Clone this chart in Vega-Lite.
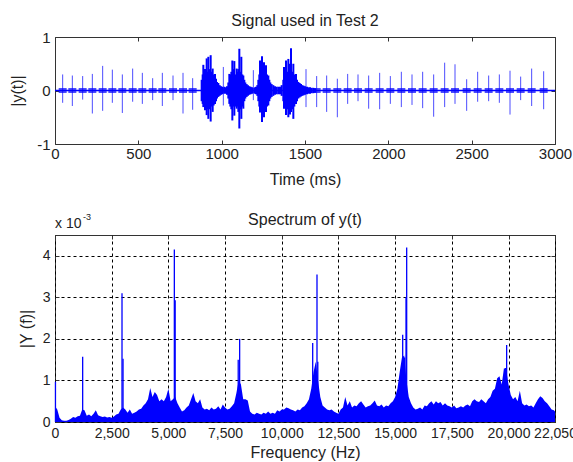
{
"$schema": "https://vega.github.io/schema/vega-lite/v6.json",
"padding": {"left": 9, "top": 12, "right": 0, "bottom": 0},
"background": "white",
"spacing": 23,
"config": {
  "font": "Liberation Sans",
  "view": {"stroke": "#333", "strokeWidth": 1},
  "title": {"fontSize": 16, "fontWeight": "normal", "color": "#222", "font": "Liberation Sans", "frame": "group"},
  "axis": {"domain": false, "tickSize": -4, "tickColor": "#333", "labelColor": "#222", "titleColor": "#222", "labelFont": "Liberation Sans", "titleFont": "Liberation Sans", "titleFontWeight": "normal", "titleFontSize": 16, "labelFontSize": 15, "grid": false, "labelFlush": false, "labelOverlap": false, "labelBound": false, "labelPadding": 9}
},
"datasets": {
  "clicks": [
    {"t":46,"hi":0.30,"lo":-0.23},{"t":104,"hi":0.28,"lo":-0.29},{"t":166,"hi":0.27,"lo":-0.17},{"t":224,"hi":0.31,"lo":-0.43},{"t":286,"hi":0.46,"lo":-0.38},{"t":344,"hi":0.39,"lo":-0.23},{"t":404,"hi":0.30,"lo":-0.42},{"t":466,"hi":0.41,"lo":-0.21},{"t":524,"hi":0.33,"lo":-0.25},{"t":586,"hi":0.23,"lo":-0.18},{"t":644,"hi":0.33,"lo":-0.29},{"t":708,"hi":0.28,"lo":-0.18},{"t":768,"hi":0.33,"lo":-0.43},{"t":826,"hi":0.23,"lo":-0.36},{"t":1010,"hi":0.44,"lo":-0.28},{"t":1190,"hi":0.38,"lo":-0.18},{"t":1506,"hi":0.40,"lo":-0.31},{"t":1570,"hi":0.27,"lo":-0.31},{"t":1630,"hi":0.28,"lo":-0.40},{"t":1694,"hi":0.22,"lo":-0.50},{"t":1756,"hi":0.31,"lo":-0.25},{"t":1818,"hi":0.30,"lo":-0.20},{"t":1882,"hi":0.28,"lo":-0.34},{"t":1948,"hi":0.33,"lo":-0.35},{"t":2012,"hi":0.27,"lo":-0.25},{"t":2078,"hi":0.35,"lo":-0.31},{"t":2142,"hi":0.30,"lo":-0.27},{"t":2206,"hi":0.35,"lo":-0.33},{"t":2272,"hi":0.30,"lo":-0.49},{"t":2338,"hi":0.52,"lo":-0.31},{"t":2400,"hi":0.49,"lo":-0.25},{"t":2470,"hi":0.21,"lo":-0.38},{"t":2536,"hi":0.35,"lo":-0.21},{"t":2602,"hi":0.28,"lo":-0.20},{"t":2666,"hi":0.30,"lo":-0.23},{"t":2730,"hi":0.37,"lo":-0.45},{"t":2794,"hi":0.26,"lo":-0.18},{"t":2860,"hi":0.41,"lo":-0.29},{"t":2932,"hi":0.36,"lo":-0.35}
  ],
  "burst": [
    {"t":880,"hi":0.20,"lo":-0.20},{"t":886,"hi":0.30,"lo":-0.25},{"t":890,"hi":0.48,"lo":-0.31},{"t":896,"hi":0.35,"lo":-0.30},{"t":900,"hi":0.40,"lo":-0.37},{"t":904,"hi":0.30,"lo":-0.30},{"t":910,"hi":0.60,"lo":-0.46},{"t":916,"hi":0.35,"lo":-0.35},{"t":920,"hi":0.63,"lo":-0.53},{"t":926,"hi":0.40,"lo":-0.35},{"t":934,"hi":0.66,"lo":-0.58},{"t":940,"hi":0.35,"lo":-0.30},{"t":946,"hi":0.41,"lo":-0.40},{"t":952,"hi":0.30,"lo":-0.28},{"t":960,"hi":0.31,"lo":-0.25},{"t":966,"hi":0.22,"lo":-0.20},{"t":972,"hi":0.16,"lo":-0.15},{"t":980,"hi":0.14,"lo":-0.12},{"t":988,"hi":0.10,"lo":-0.10},{"t":996,"hi":0.08,"lo":-0.08},{"t":1004,"hi":0.07,"lo":-0.07},{"t":1016,"hi":0.07,"lo":-0.06},{"t":1024,"hi":0.06,"lo":-0.06},{"t":1032,"hi":0.08,"lo":-0.08},
    {"t":1040,"hi":0.15,"lo":-0.15},{"t":1046,"hi":0.31,"lo":-0.25},{"t":1052,"hi":0.30,"lo":-0.30},{"t":1058,"hi":0.35,"lo":-0.35},{"t":1064,"hi":0.56,"lo":-0.56},{"t":1070,"hi":0.40,"lo":-0.30},{"t":1076,"hi":0.55,"lo":-0.47},{"t":1082,"hi":0.30,"lo":-0.30},{"t":1090,"hi":0.41,"lo":-0.34},{"t":1096,"hi":0.35,"lo":-0.30},{"t":1100,"hi":0.40,"lo":-0.40},{"t":1106,"hi":0.78,"lo":-0.71},{"t":1112,"hi":0.35,"lo":-0.35},{"t":1118,"hi":0.63,"lo":-0.53},{"t":1124,"hi":0.30,"lo":-0.30},{"t":1130,"hi":0.28,"lo":-0.34},{"t":1136,"hi":0.20,"lo":-0.20},{"t":1142,"hi":0.15,"lo":-0.15},{"t":1150,"hi":0.12,"lo":-0.12},{"t":1158,"hi":0.10,"lo":-0.10},{"t":1166,"hi":0.08,"lo":-0.08},{"t":1174,"hi":0.07,"lo":-0.07},{"t":1182,"hi":0.06,"lo":-0.06},{"t":1198,"hi":0.06,"lo":-0.06},{"t":1206,"hi":0.07,"lo":-0.07},{"t":1214,"hi":0.10,"lo":-0.10},
    {"t":1220,"hi":0.20,"lo":-0.20},{"t":1226,"hi":0.30,"lo":-0.30},{"t":1230,"hi":0.56,"lo":-0.41},{"t":1236,"hi":0.35,"lo":-0.35},{"t":1242,"hi":0.64,"lo":-0.59},{"t":1248,"hi":0.40,"lo":-0.40},{"t":1254,"hi":0.53,"lo":-0.50},{"t":1260,"hi":0.35,"lo":-0.30},{"t":1266,"hi":0.47,"lo":-0.40},{"t":1272,"hi":0.30,"lo":-0.30},{"t":1280,"hi":0.28,"lo":-0.28},{"t":1286,"hi":0.20,"lo":-0.20},{"t":1292,"hi":0.15,"lo":-0.15},{"t":1300,"hi":0.12,"lo":-0.12},{"t":1310,"hi":0.10,"lo":-0.10},{"t":1320,"hi":0.08,"lo":-0.08},{"t":1330,"hi":0.07,"lo":-0.07},{"t":1340,"hi":0.07,"lo":-0.07},{"t":1350,"hi":0.07,"lo":-0.07},{"t":1360,"hi":0.10,"lo":-0.10},
    {"t":1370,"hi":0.20,"lo":-0.20},{"t":1374,"hi":0.44,"lo":-0.34},{"t":1380,"hi":0.30,"lo":-0.30},{"t":1386,"hi":0.56,"lo":-0.46},{"t":1392,"hi":0.35,"lo":-0.35},{"t":1400,"hi":0.59,"lo":-0.50},{"t":1406,"hi":0.40,"lo":-0.35},{"t":1410,"hi":0.50,"lo":-0.45},{"t":1416,"hi":0.79,"lo":-0.40},{"t":1422,"hi":0.35,"lo":-0.35},{"t":1430,"hi":0.50,"lo":-0.53},{"t":1436,"hi":0.30,"lo":-0.30},{"t":1446,"hi":0.31,"lo":-0.25},{"t":1452,"hi":0.20,"lo":-0.20},{"t":1460,"hi":0.16,"lo":-0.15},{"t":1468,"hi":0.14,"lo":-0.13},{"t":1476,"hi":0.12,"lo":-0.11},{"t":1484,"hi":0.10,"lo":-0.10},{"t":1492,"hi":0.09,"lo":-0.09},{"t":1500,"hi":0.08,"lo":-0.08},{"t":1512,"hi":0.07,"lo":-0.07},{"t":1520,"hi":0.06,"lo":-0.06},{"t":1530,"hi":0.06,"lo":-0.06},{"t":1540,"hi":0.05,"lo":-0.05},{"t":1550,"hi":0.05,"lo":-0.05},{"t":1560,"hi":0.04,"lo":-0.04}
  ],
  "spec": [
    {"f":0,"v":0.38},{"f":100,"v":0.30},{"f":200,"v":0.10},{"f":300,"v":0.04},{"f":400,"v":0.03},{"f":500,"v":0.03},{"f":600,"v":0.05},{"f":700,"v":0.08},{"f":800,"v":0.12},{"f":900,"v":0.10},{"f":1000,"v":0.14},{"f":1100,"v":0.15},{"f":1200,"v":0.30},{"f":1300,"v":0.28},{"f":1400,"v":0.15},{"f":1500,"v":0.18},{"f":1600,"v":0.14},{"f":1700,"v":0.20},{"f":1800,"v":0.28},{"f":1900,"v":0.16},
    {"f":2000,"v":0.14},{"f":2100,"v":0.12},{"f":2200,"v":0.13},{"f":2300,"v":0.11},{"f":2400,"v":0.12},{"f":2500,"v":0.10},{"f":2600,"v":0.13},{"f":2700,"v":0.18},{"f":2800,"v":0.20},{"f":2900,"v":0.30},{"f":3000,"v":0.35},{"f":3100,"v":0.30},{"f":3200,"v":0.22},{"f":3300,"v":0.30},{"f":3400,"v":0.20},{"f":3500,"v":0.22},{"f":3600,"v":0.25},{"f":3700,"v":0.30},{"f":3800,"v":0.32},{"f":3900,"v":0.40},
    {"f":4000,"v":0.45},{"f":4100,"v":0.55},{"f":4200,"v":0.82},{"f":4300,"v":0.60},{"f":4400,"v":0.72},{"f":4500,"v":0.65},{"f":4600,"v":0.50},{"f":4700,"v":0.55},{"f":4800,"v":0.50},{"f":4900,"v":0.60},{"f":5000,"v":0.80},{"f":5100,"v":0.50},{"f":5200,"v":0.55},{"f":5300,"v":0.60},{"f":5400,"v":0.45},{"f":5500,"v":0.35},{"f":5600,"v":0.25},{"f":5700,"v":0.28},{"f":5800,"v":0.35},{"f":5900,"v":0.40},
    {"f":6000,"v":0.55},{"f":6100,"v":0.70},{"f":6200,"v":0.50},{"f":6300,"v":0.45},{"f":6400,"v":0.55},{"f":6500,"v":0.35},{"f":6600,"v":0.30},{"f":6700,"v":0.32},{"f":6800,"v":0.28},{"f":6900,"v":0.35},{"f":7000,"v":0.30},{"f":7100,"v":0.32},{"f":7200,"v":0.38},{"f":7300,"v":0.30},{"f":7400,"v":0.42},{"f":7500,"v":0.35},{"f":7600,"v":0.30},{"f":7700,"v":0.32},{"f":7800,"v":0.38},{"f":7900,"v":0.45},
    {"f":8000,"v":0.70},{"f":8100,"v":1.00},{"f":8200,"v":0.90},{"f":8300,"v":0.55},{"f":8400,"v":0.55},{"f":8500,"v":0.52},{"f":8600,"v":0.25},{"f":8700,"v":0.20},{"f":8800,"v":0.18},{"f":8900,"v":0.22},{"f":9000,"v":0.20},{"f":9100,"v":0.18},{"f":9200,"v":0.22},{"f":9300,"v":0.20},{"f":9400,"v":0.25},{"f":9500,"v":0.20},{"f":9600,"v":0.22},{"f":9700,"v":0.20},{"f":9800,"v":0.28},{"f":9900,"v":0.25},
    {"f":10000,"v":0.30},{"f":10100,"v":0.30},{"f":10200,"v":0.35},{"f":10300,"v":0.33},{"f":10400,"v":0.30},{"f":10500,"v":0.28},{"f":10600,"v":0.25},{"f":10700,"v":0.30},{"f":10800,"v":0.28},{"f":10900,"v":0.35},{"f":11000,"v":0.38},{"f":11100,"v":0.45},{"f":11200,"v":0.55},{"f":11300,"v":0.80},{"f":11400,"v":1.20},{"f":11500,"v":1.45},{"f":11600,"v":1.00},{"f":11700,"v":0.60},{"f":11800,"v":0.40},{"f":11900,"v":0.35},
    {"f":12000,"v":0.30},{"f":12100,"v":0.28},{"f":12200,"v":0.30},{"f":12300,"v":0.25},{"f":12400,"v":0.22},{"f":12500,"v":0.20},{"f":12600,"v":0.30},{"f":12700,"v":0.35},{"f":12800,"v":0.60},{"f":12900,"v":0.40},{"f":13000,"v":0.50},{"f":13100,"v":0.35},{"f":13200,"v":0.40},{"f":13300,"v":0.38},{"f":13400,"v":0.45},{"f":13500,"v":0.50},{"f":13600,"v":0.42},{"f":13700,"v":0.35},{"f":13800,"v":0.38},{"f":13900,"v":0.40},
    {"f":14000,"v":0.45},{"f":14100,"v":0.52},{"f":14200,"v":0.40},{"f":14300,"v":0.38},{"f":14400,"v":0.42},{"f":14500,"v":0.35},{"f":14600,"v":0.40},{"f":14700,"v":0.38},{"f":14800,"v":0.45},{"f":14900,"v":0.50},{"f":15000,"v":0.60},{"f":15100,"v":0.80},{"f":15200,"v":1.20},{"f":15300,"v":1.55},{"f":15400,"v":1.60},{"f":15500,"v":1.00},{"f":15600,"v":0.60},{"f":15700,"v":0.45},{"f":15800,"v":0.35},{"f":15900,"v":0.30},
    {"f":16000,"v":0.32},{"f":16100,"v":0.35},{"f":16200,"v":0.30},{"f":16300,"v":0.40},{"f":16400,"v":0.38},{"f":16500,"v":0.45},{"f":16600,"v":0.50},{"f":16700,"v":0.42},{"f":16800,"v":0.50},{"f":16900,"v":0.45},{"f":17000,"v":0.48},{"f":17100,"v":0.40},{"f":17200,"v":0.45},{"f":17300,"v":0.40},{"f":17400,"v":0.38},{"f":17500,"v":0.35},{"f":17600,"v":0.40},{"f":17700,"v":0.33},{"f":17800,"v":0.35},{"f":17900,"v":0.38},
    {"f":18000,"v":0.35},{"f":18100,"v":0.40},{"f":18200,"v":0.42},{"f":18300,"v":0.38},{"f":18400,"v":0.50},{"f":18500,"v":0.55},{"f":18600,"v":0.50},{"f":18700,"v":0.48},{"f":18800,"v":0.55},{"f":18900,"v":0.50},{"f":19000,"v":0.45},{"f":19100,"v":0.55},{"f":19200,"v":0.60},{"f":19300,"v":0.75},{"f":19400,"v":0.80},{"f":19500,"v":1.05},{"f":19600,"v":1.10},{"f":19700,"v":0.90},{"f":19800,"v":1.30},{"f":19900,"v":1.25},
    {"f":20000,"v":0.90},{"f":20100,"v":0.65},{"f":20200,"v":0.55},{"f":20300,"v":0.60},{"f":20400,"v":0.50},{"f":20500,"v":0.75},{"f":20600,"v":0.45},{"f":20700,"v":0.40},{"f":20800,"v":0.42},{"f":20900,"v":0.38},{"f":21000,"v":0.40},{"f":21100,"v":0.35},{"f":21200,"v":0.45},{"f":21300,"v":0.55},{"f":21400,"v":0.62},{"f":21500,"v":0.58},{"f":21600,"v":0.50},{"f":21700,"v":0.45},{"f":21800,"v":0.38},{"f":21900,"v":0.30},{"f":22000,"v":0.28},{"f":22050,"v":0.25}
  ],
  "peaks": [
    {"f":20,"v":0.97},{"f":1220,"v":1.57},{"f":2955,"v":3.10},{"f":3000,"v":1.52},{"f":5263,"v":4.15},{"f":5300,"v":2.93},{"f":8080,"v":1.50},{"f":8143,"v":2.00},{"f":11364,"v":1.90},{"f":11554,"v":3.55},{"f":11590,"v":1.45},{"f":15333,"v":2.10},{"f":15420,"v":1.55},{"f":15480,"v":3.00},{"f":15509,"v":4.20},{"f":19870,"v":1.30},{"f":19918,"v":1.85}
  ]
},
"vconcat": [
  {
    "width": 500, "height": 107,
    "title": {"text": "Signal used in Test 2", "offset": 1},
    "layer": [
      {"data": {"values": [{"t": 0, "v": 0}, {"t": 3000, "v": 0}]},
       "mark": {"type": "line", "color": "#0000ff", "strokeWidth": 1.5},
       "encoding": {
         "x": {"field": "t", "type": "quantitative", "scale": {"domain": [0, 3000], "nice": false}, "axis": {"orient": "bottom", "values": [0,500,1000,1500,2000,2500,3000], "labelExpr": "format(datum.value, 'd')", "title": "Time (ms)", "labelPadding": 6, "titlePadding": 10}},
         "y": {"field": "v", "type": "quantitative", "scale": {"domain": [-1, 1], "nice": false}, "axis": {"orient": "left", "values": [-1,0,1], "labelExpr": "datum.value < 0 ? '-' + format(-datum.value, 'd') : format(datum.value, 'd')", "title": "|y(t)|", "titlePadding": 11}}
       }},
      {"data": {"name": "clicks"},
       "mark": {"type": "tick", "orient": "horizontal", "color": "#0000ff", "size": 8, "thickness": 5},
       "encoding": {
         "x": {"field": "t", "type": "quantitative", "axis": {"orient": "top", "labels": false, "title": null, "values": [0,500,1000,1500,2000,2500,3000]}},
         "y": {"datum": 0, "type": "quantitative", "axis": {"orient": "right", "labels": false, "title": null, "values": [-1,0,1]}}
       }},
      {"data": {"name": "clicks"},
       "mark": {"type": "rule", "color": "#0000ff", "strokeWidth": 1, "opacity": 0.7},
       "encoding": {
         "x": {"field": "t", "type": "quantitative", "axis": null},
         "y": {"field": "hi", "type": "quantitative", "axis": null},
         "y2": {"field": "lo"}
       }},
      {"data": {"name": "burst"},
       "mark": {"type": "rule", "color": "#0000ff", "strokeWidth": 2},
       "encoding": {
         "x": {"field": "t", "type": "quantitative", "axis": null},
         "y": {"field": "hi", "type": "quantitative", "axis": null},
         "y2": {"field": "lo"}
       }}
    ],
    "resolve": {"axis": {"x": "independent", "y": "independent"}}
  },
  {
    "width": 500, "height": 187,
    "title": {"text": "Spectrum of y(t)", "offset": -15},
    "layer": [
      {"data": {"name": "spec"},
       "mark": {"type": "area", "color": "#0000ff", "opacity": 1},
       "encoding": {
         "x": {"field": "f", "type": "quantitative", "scale": {"domain": [0, 22050], "nice": false}, "axis": {"orient": "bottom", "values": [0,2500,5000,7500,10000,12500,15000,17500,20000,22050], "labelExpr": "format(datum.value, ',d')", "title": "Frequency (Hz)", "labelFontSize": 14, "labelPadding": 8, "titlePadding": 4, "grid": true, "gridColor": "#000", "gridDash": [3,3], "gridOpacity": 1}},
         "y": {"field": "v", "type": "quantitative", "scale": {"domain": [0, 4.5], "nice": false}, "axis": {"orient": "left", "values": [0,1,2,3,4], "labelExpr": "format(datum.value, 'd')", "title": "|Y (f)|", "labelFontSize": 14, "titlePadding": 8, "grid": true, "gridColor": "#000", "gridDash": [3,3], "gridOpacity": 1}}
       }},
      {"data": {"name": "peaks"},
       "mark": {"type": "rule", "color": "#0000ff", "strokeWidth": 1.3},
       "encoding": {
         "x": {"field": "f", "type": "quantitative", "axis": null},
         "y": {"field": "v", "type": "quantitative", "axis": null},
         "y2": {"datum": 0}
       }},
      {"data": {"values": [{"label": "x 10"}]},
       "mark": {"type": "text", "align": "left", "baseline": "alphabetic", "dy": -7, "fontSize": 14, "color": "#222"},
       "encoding": {
         "x": {"datum": 0, "type": "quantitative", "axis": {"orient": "top", "labels": false, "title": null, "values": [0,2500,5000,7500,10000,12500,15000,17500,20000,22050]}},
         "y": {"datum": 4.5, "type": "quantitative", "axis": {"orient": "right", "labels": false, "title": null, "values": [0,1,2,3,4]}},
         "text": {"field": "label"}
       }},
      {"data": {"values": [{"label": "-3"}]},
       "mark": {"type": "text", "align": "left", "baseline": "alphabetic", "dx": 28, "dy": -15, "fontSize": 9, "color": "#222"},
       "encoding": {
         "x": {"datum": 0, "type": "quantitative", "axis": null},
         "y": {"datum": 4.5, "type": "quantitative", "axis": null},
         "text": {"field": "label"}
       }}
    ],
    "resolve": {"axis": {"x": "independent", "y": "independent"}}
  }
]
}
